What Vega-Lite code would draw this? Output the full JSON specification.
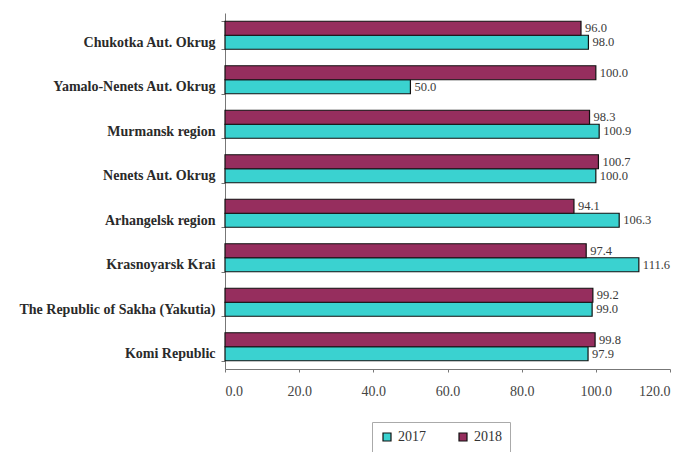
{
  "$schema": "https://vega.github.io/schema/vega-lite/v6.json",
  "width": 445,
  "height": 356,
  "autosize": "none",
  "padding": {"left": 225, "top": 13, "right": 13, "bottom": 83},
  "background": "white",
  "config": {
    "font": "Liberation Serif",
    "view": {"stroke": null}
  },
  "data": {
    "values": [
      {"region": "Chukotka Aut. Okrug", "year": "2017", "value": 98.0},
      {"region": "Chukotka Aut. Okrug", "year": "2018", "value": 96.0},
      {"region": "Yamalo-Nenets Aut. Okrug", "year": "2017", "value": 50.0},
      {"region": "Yamalo-Nenets Aut. Okrug", "year": "2018", "value": 100.0},
      {"region": "Murmansk region", "year": "2017", "value": 100.9},
      {"region": "Murmansk region", "year": "2018", "value": 98.3},
      {"region": "Nenets Aut. Okrug", "year": "2017", "value": 100.0},
      {"region": "Nenets Aut. Okrug", "year": "2018", "value": 100.7},
      {"region": "Arhangelsk region", "year": "2017", "value": 106.3},
      {"region": "Arhangelsk region", "year": "2018", "value": 94.1},
      {"region": "Krasnoyarsk Krai", "year": "2017", "value": 111.6},
      {"region": "Krasnoyarsk Krai", "year": "2018", "value": 97.4},
      {"region": "The Republic of Sakha (Yakutia)", "year": "2017", "value": 99.0},
      {"region": "The Republic of Sakha (Yakutia)", "year": "2018", "value": 99.2},
      {"region": "Komi Republic", "year": "2017", "value": 97.9},
      {"region": "Komi Republic", "year": "2018", "value": 99.8}
    ]
  },
  "encoding": {
    "y": {
      "field": "region",
      "type": "nominal",
      "sort": null,
      "title": null,
      "scale": {"paddingInner": 0.37, "paddingOuter": 0.185},
      "axis": {
        "domainColor": "#777",
        "tickColor": "#777",
        "tickBand": "extent",
        "tickSize": 4,
        "labelFont": "Liberation Serif",
        "labelFontSize": 14,
        "labelFontWeight": "bold",
        "labelColor": "#2a2a2a",
        "labelPadding": 6,
        "labelOffset": 7,
        "labelLimit": 260
      }
    },
    "yOffset": {"field": "year", "type": "nominal", "sort": ["2018", "2017"]},
    "x": {
      "field": "value",
      "type": "quantitative",
      "title": null,
      "scale": {"domain": [0, 120], "nice": false},
      "axis": {
        "values": [0, 20, 40, 60, 80, 100, 120],
        "format": ".1f",
        "grid": false,
        "domainColor": "#777",
        "tickColor": "#777",
        "tickSize": 3,
        "labelFont": "Liberation Serif",
        "labelFontSize": 14,
        "labelColor": "#444",
        "labelPadding": 12
      }
    }
  },
  "layer": [
    {
      "mark": {"type": "bar", "stroke": "#111", "strokeWidth": 1.2},
      "encoding": {
        "color": {
          "field": "year",
          "type": "nominal",
          "scale": {"domain": ["2017", "2018"], "range": ["#3AD2D0", "#962E5E"]},
          "legend": {
            "title": null,
            "orient": "none",
            "direction": "horizontal",
            "legendX": 147,
            "legendY": 409,
            "symbolType": "square",
            "symbolSize": 64,
            "symbolStrokeColor": "#111",
            "symbolStrokeWidth": 1.2,
            "labelFont": "Liberation Serif",
            "labelFontSize": 14,
            "labelColor": "#333",
            "labelOffset": 4,
            "columnPadding": 30,
            "padding": 8,
            "strokeColor": "#aaa",
            "fillColor": "white"
          }
        }
      }
    },
    {
      "mark": {"type": "text", "align": "left", "dx": 4, "baseline": "middle", "font": "Liberation Serif", "fontSize": 12.5, "color": "#3a3a3a"},
      "encoding": {
        "text": {"field": "value", "type": "quantitative", "format": ".1f"}
      }
    }
  ]
}
